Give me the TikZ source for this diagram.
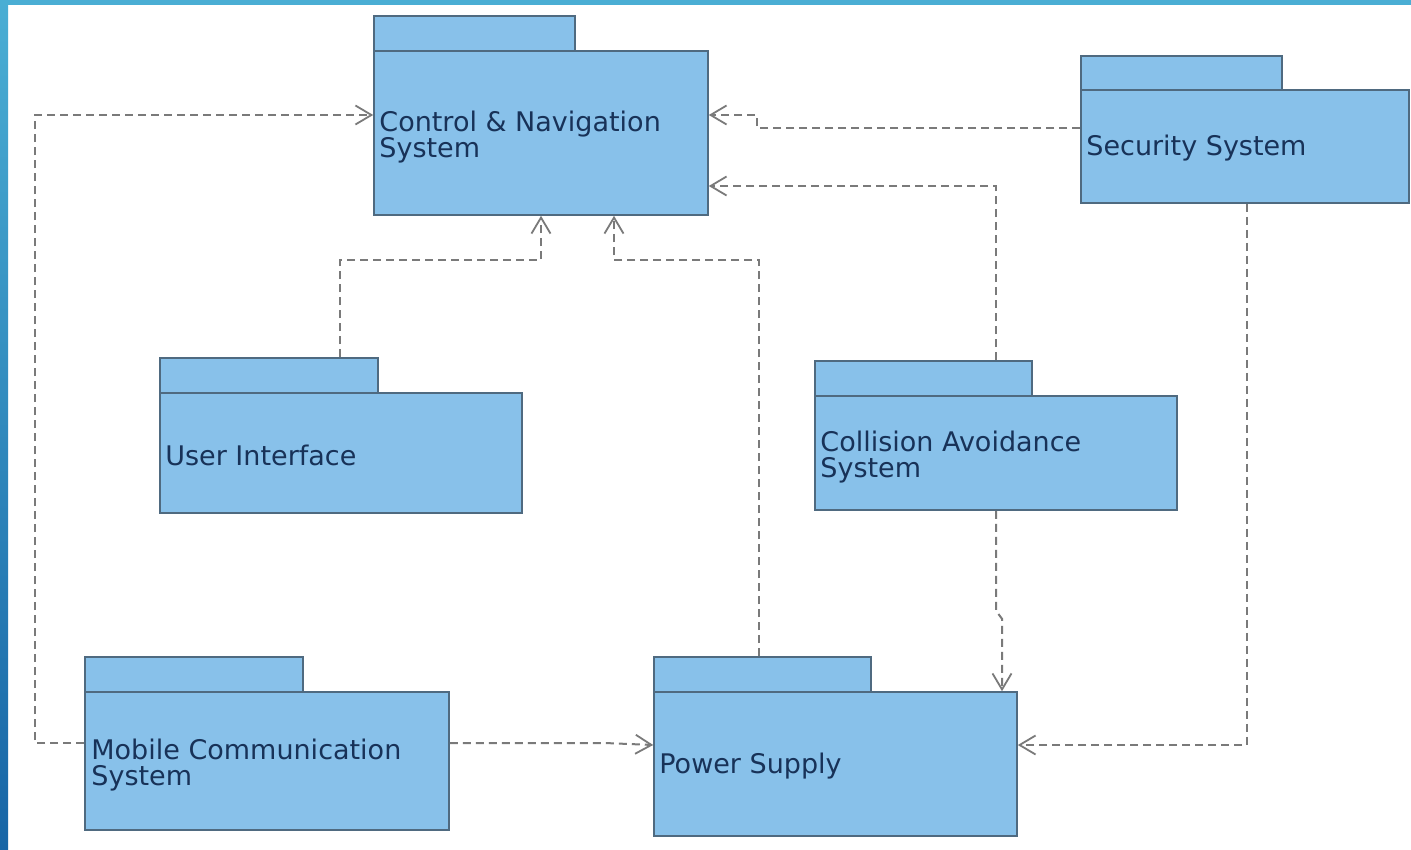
\documentclass[tikz,border=0pt]{standalone}
\usepackage{fontspec}
\setmainfont{DejaVu Sans}
\usetikzlibrary{arrows.meta}
\definecolor{pkgfill}{HTML}{88C1EA}
\definecolor{pkgline}{HTML}{4F6A80}
\definecolor{pkgtext}{HTML}{183258}
\definecolor{depline}{HTML}{7A7A7A}
\definecolor{bandtop}{HTML}{4AAED4}
\definecolor{bandbot}{HTML}{1765A6}
\tikzset{
  pkgtab/.style={draw=pkgline, fill=pkgfill, line width=1.6pt, inner sep=0pt},
  pkgbody/.style={draw=pkgline, fill=pkgfill, line width=1.6pt, inner sep=0pt},
  pkglabel/.style={anchor=west, inner sep=0pt, align=left, text=pkgtext,
    font=\fontsize{27}{26}\selectfont},
  dep/.style={draw=depline, line width=2pt, dash pattern=on 8pt off 5pt,
    -{Straight Barb[length=16pt,width=19pt,line width=1.8pt]}},
}
\begin{document}
\begin{tikzpicture}[x=1pt,y=-1pt]
\useasboundingbox (0,0) rectangle (1411,849);
\fill[white] (0,0) rectangle (1411,849);
\shade[top color=bandtop, bottom color=bandbot] (0,0) rectangle (8,849);
\fill[bandtop] (0,0) rectangle (1411,5);

% Control & Navigation System
\node[pkgtab, minimum width=201pt, minimum height=35pt] (cnTab) at (474.5,33.5) {};
\node[pkgbody, minimum width=334pt, minimum height=164pt] (cn) at (541,133) {};
\node[pkglabel] (cnLabel) at ([xshift=6pt,yshift=-4pt]cn.west) {Control \& Navigation\\System};

% Security System
\node[pkgtab, minimum width=201pt, minimum height=34pt] (secTab) at (1181.5,73) {};
\node[pkgbody, minimum width=328pt, minimum height=113pt] (sec) at (1245,146.5) {};
\node[pkglabel] (secLabel) at ([xshift=6pt,yshift=-2pt]sec.west) {Security System};

% User Interface
\node[pkgtab, minimum width=218pt, minimum height=35pt] (uiTab) at (269,375.5) {};
\node[pkgbody, minimum width=362pt, minimum height=120pt] (ui) at (341,453) {};
\node[pkglabel] (uiLabel) at ([xshift=6pt,yshift=-2pt]ui.west) {User Interface};

% Collision Avoidance System
\node[pkgtab, minimum width=217pt, minimum height=35pt] (colTab) at (923.5,378.5) {};
\node[pkgbody, minimum width=362pt, minimum height=114pt] (col) at (996,453) {};
\node[pkglabel] (colLabel) at ([xshift=6pt,yshift=-4pt]col.west) {Collision Avoidance\\System};

% Mobile Communication System
\node[pkgtab, minimum width=218pt, minimum height=35pt] (mobTab) at (194,674.5) {};
\node[pkgbody, minimum width=364pt, minimum height=138pt] (mob) at (267,761) {};
\node[pkglabel] (mobLabel) at ([xshift=7pt,yshift=-4pt]mob.west) {Mobile Communication\\System};

% Power Supply
\node[pkgtab, minimum width=217pt, minimum height=35pt] (pwrTab) at (762.5,674.5) {};
\node[pkgbody, minimum width=363pt, minimum height=144pt] (pwr) at (835.5,764) {};
\node[pkglabel] (pwrLabel) at ([xshift=6pt,yshift=-2pt]pwr.west) {Power Supply};

% dependencies
\draw[dep] ([yshift=18pt]mob.west) -- ++(-49,0) |- ([yshift=18pt]cn.west);
\draw[dep] ([yshift=18pt]mob.east) -- ++(155,0) -- ([yshift=19pt]pwr.west);
\draw[dep] ([yshift=18.5pt]sec.west) -- ++(-323,0) |- ([yshift=18pt]cn.east);
\draw[dep] ([xshift=72.5pt]colTab.north) |- ([yshift=-53pt]cn.east);
\draw[dep] ([xshift=71pt]uiTab.north) -- ++(0,-97) -| (cn.south);
\draw[dep] ([xshift=-3.5pt]pwrTab.north) -- ++(0,-396) -| ([xshift=73pt]cn.south);
\draw[dep] (col.south) -- ++(0,100) -- ++(6,8) -- ([xshift=166.5pt]pwr.north);
\draw[dep] ([xshift=2pt]sec.south) |- ([yshift=19pt]pwr.east);
\end{tikzpicture}
\end{document}
